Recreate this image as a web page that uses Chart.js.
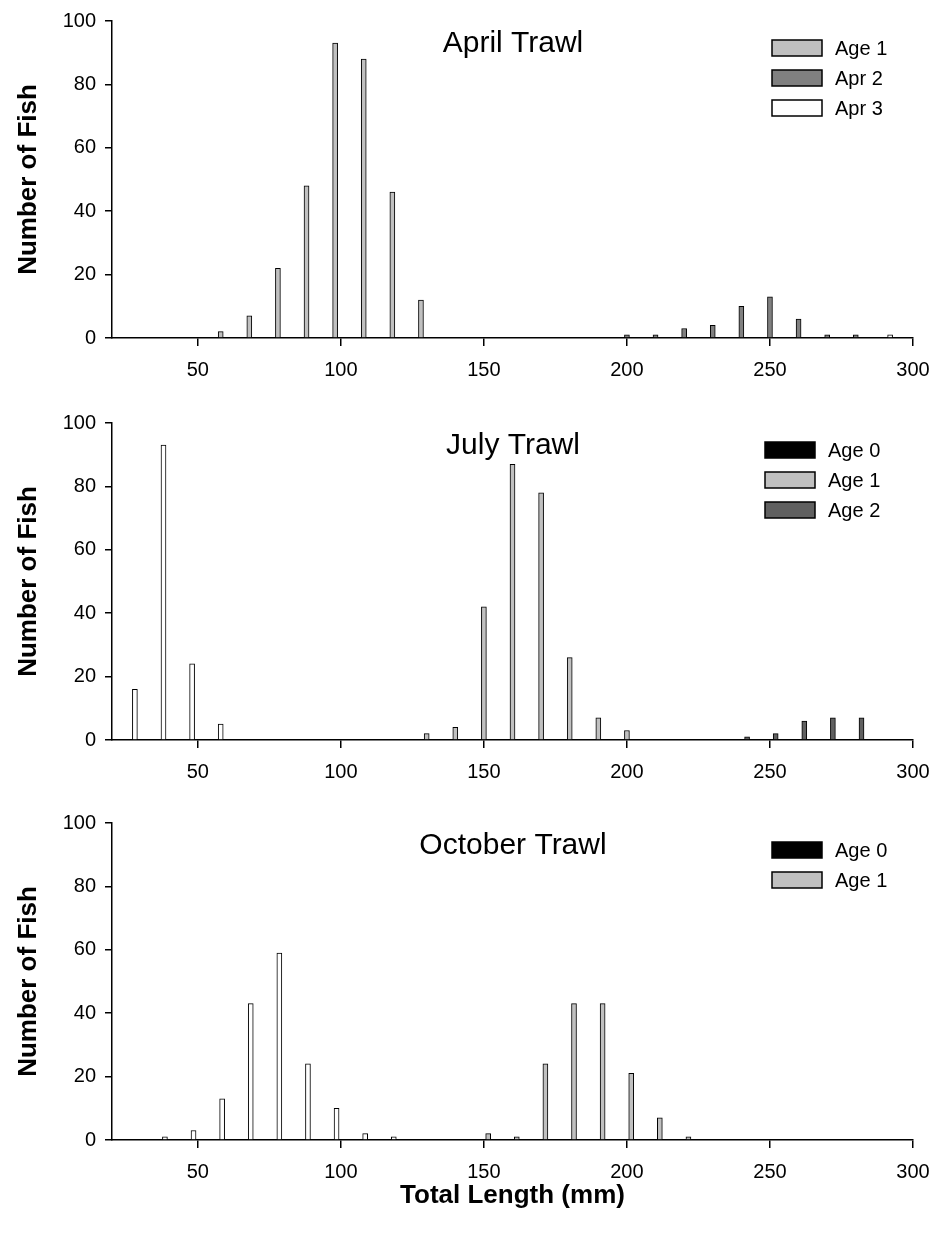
<!DOCTYPE html>
<html>
<head>
<meta charset="utf-8">
<script src="https://cdn.jsdelivr.net/npm/chart.js@4.4.1/dist/chart.umd.min.js"></script>
<style>
  body { margin: 0; background: #fff; }
  .panel { position: absolute; left: 0; width: 932px; }
</style>
</head>
<body>
<div class="panel" style="top:0;height:400px"><canvas id="april"></canvas></div>
<div class="panel" style="top:402px;height:400px"><canvas id="july"></canvas></div>
<div class="panel" style="top:802px;height:439px"><canvas id="october"></canvas></div>
<script>
// tick labels
const xTicks = [50, 100, 150, 200, 250, 300];
const yTicks = [0, 20, 40, 60, 80, 100];

// April trawl
const aprilAge1Len = [58, 68, 78, 88, 98, 108, 118, 128];
const aprilAge1Count = [2, 7, 22, 48, 93, 88, 46, 12];
const aprilAge2Len = [200, 210, 220, 230, 240, 250, 260, 270, 280];
const aprilAge2Count = [1, 1, 3, 4, 10, 13, 6, 1, 1];
const aprilAge3Len = [292];
const aprilAge3Count = [1];

// July trawl
const julyAge0Len = [28, 38, 48, 58];
const julyAge0Count = [16, 93, 24, 5];
const julyAge1Len = [130, 140, 150, 160, 170, 180, 190, 200];
const julyAge1Count = [2, 4, 42, 87, 78, 26, 7, 3];
const julyAge2Len = [242, 252, 262, 272, 282];
const julyAge2Count = [1, 2, 6, 7, 7];

// October trawl
const octAge0Len = [38.5, 48.5, 58.5, 68.5, 78.5, 88.5, 98.5, 108.5, 118.5];
const octAge0Count = [1, 3, 13, 43, 59, 24, 10, 2, 1];
const octAge1Len = [151.5, 161.5, 171.5, 181.5, 191.5, 201.5, 211.5, 221.5];
const octAge1Count = [2, 1, 24, 43, 43, 21, 7, 1];

const FONT = '"Liberation Sans", Arial, sans-serif';

function pts(xs, ys) {
  return xs.map((x, i) => ({ x: x, y: ys[i] }));
}

function series(label, xs, ys, fill, legendFill) {
  return {
    label: label,
    data: pts(xs, ys),
    backgroundColor: fill,
    borderColor: '#000',
    borderWidth: 1,
    barThickness: 5,
    grouped: false,
    legendFill: legendFill || fill
  };
}

// legend boxes and panel title drawn inside the plot area
const panelDecor = {
  id: 'panelDecor',
  afterDraw(chart, args, opts) {
    const ctx = chart.ctx;
    const a = chart.chartArea;
    ctx.save();
    ctx.font = '20px ' + FONT;
    ctx.textBaseline = 'middle';
    ctx.textAlign = 'left';
    chart.data.datasets.forEach((ds, i) => {
      const y = a.top + 19 + i * 30;
      ctx.fillStyle = ds.legendFill;
      ctx.fillRect(opts.legendX, y, 50, 16);
      ctx.strokeStyle = '#000';
      ctx.lineWidth = 1.5;
      ctx.strokeRect(opts.legendX, y, 50, 16);
      ctx.fillStyle = '#000';
      ctx.fillText(ds.label, opts.legendX + 63, y + 9);
    });
    ctx.font = '30px ' + FONT;
    ctx.textAlign = 'center';
    ctx.textBaseline = 'alphabetic';
    ctx.fillText(opts.title, 513, a.top + 31);
    ctx.restore();
  }
};

function makeChart(id, title, legendX, datasets, lastPanel) {
  new Chart(document.getElementById(id), {
    type: 'bar',
    data: { datasets: datasets },
    plugins: [panelDecor],
    options: {
      responsive: true,
      maintainAspectRatio: false,
      animation: false,
      layout: { padding: { top: 18, right: 19, left: 0, bottom: 0 } },
      plugins: {
        legend: { display: false },
        tooltip: { enabled: false },
        panelDecor: { title: title, legendX: legendX }
      },
      scales: {
        x: {
          type: 'linear',
          min: 20,
          max: 300,
          offset: false,
          afterBuildTicks: s => { s.ticks = xTicks.map(v => ({ value: v })); },
          afterFit: s => {
            s.height = lastPanel ? 101 : 62;
            s.paddingLeft = 0;
            s.paddingRight = 0;
          },
          grid: { display: true, offset: false, drawOnChartArea: false, drawTicks: true, tickLength: 8, color: '#000', lineWidth: 1.5 },
          border: { display: true, color: '#000', width: 1.5 },
          ticks: { color: '#000', font: { family: FONT, size: 20 }, padding: 12, maxRotation: 0 },
          title: {
            display: lastPanel,
            text: 'Total Length (mm)',
            color: '#000',
            font: { family: FONT, size: 26, weight: 'bold' },
            padding: { top: 0, bottom: 30 }
          }
        },
        y: {
          min: 0,
          max: 100,
          afterBuildTicks: s => { s.ticks = yTicks.map(v => ({ value: v })); },
          afterFit: s => { s.width = 112; },
          grid: { display: true, drawOnChartArea: false, drawTicks: true, tickLength: 7, color: '#000', lineWidth: 1.5 },
          border: { display: true, color: '#000', width: 1.5 },
          ticks: { color: '#000', font: { family: FONT, size: 20 }, padding: 9 },
          title: {
            display: true,
            text: 'Number of Fish',
            color: '#000',
            font: { family: FONT, size: 26, weight: 'bold' },
            padding: { top: 13, bottom: 0 }
          }
        }
      }
    }
  });
}

makeChart('april', 'April Trawl', 772, [
  series('Age 1', aprilAge1Len, aprilAge1Count, '#c0c0c0'),
  series('Apr 2', aprilAge2Len, aprilAge2Count, '#808080'),
  series('Apr 3', aprilAge3Len, aprilAge3Count, '#ffffff')
], false);

makeChart('july', 'July Trawl', 765, [
  series('Age 0', julyAge0Len, julyAge0Count, '#ffffff', '#000000'),
  series('Age 1', julyAge1Len, julyAge1Count, '#c0c0c0'),
  series('Age 2', julyAge2Len, julyAge2Count, '#606060')
], false);

makeChart('october', 'October Trawl', 772, [
  series('Age 0', octAge0Len, octAge0Count, '#ffffff', '#000000'),
  series('Age 1', octAge1Len, octAge1Count, '#c0c0c0')
], true);
</script>
</body>
</html>
